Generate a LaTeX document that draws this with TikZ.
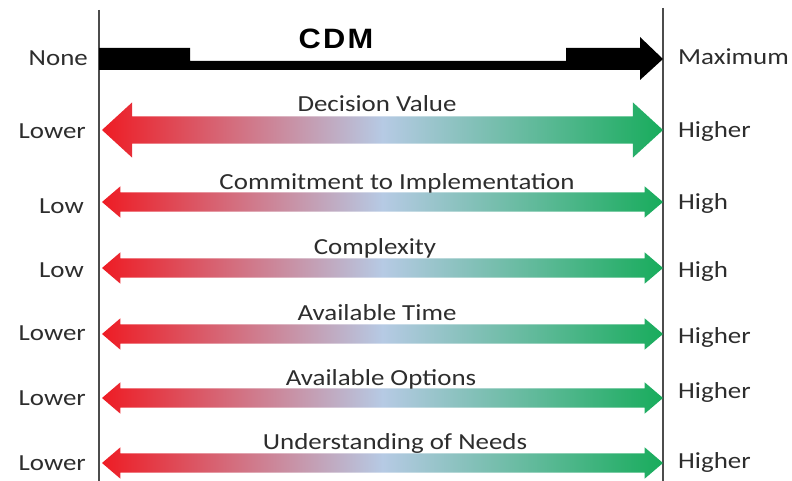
\documentclass[tikz,border=0pt]{standalone}
\usepackage{fontspec}
\usepackage{tikz}
\usetikzlibrary{shapes.arrows,positioning,calc}
\newfontfamily\lblfont[FakeStretch=1.17]{Carlito}
\newfontfamily\cdmfont[FakeStretch=1.1,LetterSpace=8]{Liberation Sans}
\definecolor{cdmred}{RGB}{238,28,36}
\definecolor{cdmmid}{RGB}{182,202,228}
\definecolor{cdmgreen}{RGB}{24,172,92}
\definecolor{txtgray}{RGB}{45,45,45}
\tikzset{
    lbl/.style={
        font=\lblfont\fontsize{23}{25}\selectfont,
        text=txtgray,
        inner sep=0pt,
    },
    endl/.style={
        lbl,
        anchor=east,
    },
    endr/.style={
        lbl,
        anchor=west,
    },
    scale-arrow/.style={
        double arrow,
        inner sep=0pt,
        text height=19pt,
        text depth=0pt,
        minimum height=561pt,
        minimum width=0pt,
        double arrow head extend=6pt,
        double arrow tip angle=81,
        left color=cdmred,
        right color=cdmgreen,
        middle color=cdmmid,
    },
    axis-line/.style={
        draw=black!70,
        line width=1.4pt,
    },
}
\begin{document}
\begin{tikzpicture}[x=1pt,y=-1pt]
                    \useasboundingbox (0,0) rectangle (792,481);

                    % Axis lines
                    \coordinate (top-L) at (99,10);
                    \coordinate (bot-L) at (99,481);
                    \coordinate (top-R) at (663,8);
                    \coordinate (bot-R) at (663,481);
                    \draw[axis-line] (top-L) -- (bot-L);
                    \draw[axis-line] (top-R) -- (bot-R);

                    % CDM arrow
                    \coordinate (none) at (99,59);
                    \fill[black] (99,48) -- (190,48) -- (190,61) -- (566,61) -- (566,48)
                        -- (640,48) -- (640,37) -- (663,59) -- (640,80) -- (640,70) -- (99,70) -- cycle;
                    \node[inner sep=0pt, font=\cdmfont\bfseries\fontsize{28}{30}\selectfont] (cdm) at (336,39) {CDM};
                    \node[endl] (lNone) at (88,58) {None};
                    \node[endr] (rMax) at (678,57) {Maximum};

                    % Scale arrows
                    \node[scale-arrow, text height=27pt, double arrow head extend=14pt,
                        double arrow tip angle=85] (A1) at (382.5,130) {};
                    \node[scale-arrow] (A2) at (382.5,202) {};
                    \node[scale-arrow] (A3) at (382.5,268) {};
                    \node[scale-arrow] (A4) at (382.5,334) {};
                    \node[scale-arrow] (A5) at (382.5,398) {};
                    \node[scale-arrow] (A6) at (382.5,463) {};

                    % Titles
                    \node[lbl] (T1) at (377,104) {Decision Value};
                    \node[lbl] (T2) at (397,183) {Commitment to Implementation};
                    \node[lbl] (T3) at (375,248) {Complexity};
                    \node[lbl] (T4) at (377,313) {Available Time};
                    \node[lbl] (T5) at (381,379) {Available Options};
                    \node[lbl] (T6) at (395,443) {Understanding of Needs};

                    % End labels
                    \node[endl] (l1) at (86,131) {Lower};
                    \node[endr] (r1) at (678,131) {Higher};
                    \node[endl] (l2) at (84,206) {Low};
                    \node[endr] (r2) at (678,203) {High};
                    \node[endl] (l3) at (84,270) {Low};
                    \node[endr] (r3) at (678,271) {High};
                    \node[endl] (l4) at (86,333) {Lower};
                    \node[endr] (r4) at (678,337) {Higher};
                    \node[endl] (l5) at (86,398) {Lower};
                    \node[endr] (r5) at (678,392) {Higher};
                    \node[endl] (l6) at (86,463) {Lower};
                    \node[endr] (r6) at (678,462) {Higher};
                \end{tikzpicture}
\end{document}
